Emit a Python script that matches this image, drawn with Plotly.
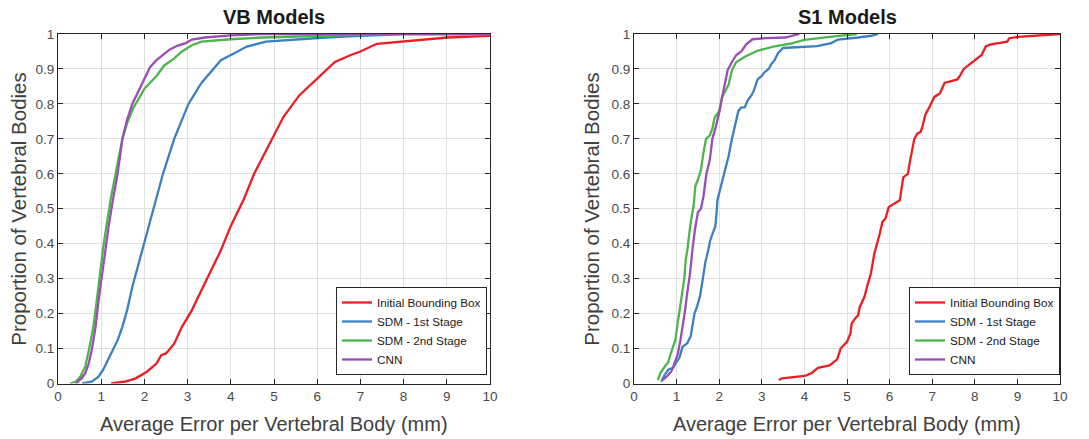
import plotly.graph_objects as go

# ---------------- data ----------------
series_names = ["Initial Bounding Box", "SDM - 1st Stage", "SDM - 2nd Stage", "CNN"]
series_colors = ["#ee1c24", "#3a80c3", "#4cb64a", "#9a4db5"]

x_ticks = list(range(0, 11))
y_ticks = [0, 0.1, 0.2, 0.3, 0.4, 0.5, 0.6, 0.7, 0.8, 0.9, 1]
y_tick_labels = ["0", "0.1", "0.2", "0.3", "0.4", "0.5", "0.6", "0.7", "0.8", "0.9", "1"]

# VB models
vb_init_x = [1.23, 1.53, 1.79, 2.05, 2.28, 2.39, 2.5, 2.69, 2.87, 3.1, 3.32, 3.54, 3.77, 3.99, 4.14, 4.29,
             4.54, 4.99, 5.22, 5.59, 5.96, 6.41, 6.78, 7.0, 7.38, 7.9, 8.43, 9.02, 9.84, 10]
vb_init_y = [0, 0.005, 0.014, 0.033, 0.057, 0.081, 0.086, 0.114, 0.162, 0.21, 0.267, 0.324, 0.381, 0.448, 0.486, 0.524,
             0.6, 0.705, 0.763, 0.825, 0.868, 0.92, 0.94, 0.95, 0.972, 0.978, 0.985, 0.99, 0.994, 0.995]

vb_sdm1_x = [0.56, 0.78, 0.93, 1.04, 1.19, 1.38, 1.49, 1.6, 1.72, 1.87, 1.98, 2.09, 2.2, 2.43, 2.69, 3.02, 3.32,
             3.77, 4.07, 4.37, 4.81, 5.5, 6.2, 7.0, 8.0, 10]
vb_sdm1_y = [0, 0.005, 0.019, 0.038, 0.076, 0.124, 0.162, 0.21, 0.276, 0.343, 0.4, 0.448, 0.495, 0.6, 0.7, 0.8, 0.86,
             0.925, 0.944, 0.964, 0.978, 0.985, 0.99, 0.995, 1.0, 1.0]

vb_sdm2_x = [0.28, 0.41, 0.52, 0.63, 0.72, 0.82, 0.9, 0.97, 1.04, 1.12, 1.22, 1.38, 1.49, 1.6, 1.75, 2.01, 2.28,
             2.46, 2.69, 2.87, 3.1, 3.32, 4.0, 4.74, 6.0, 7.5, 10]
vb_sdm2_y = [0, 0.005, 0.02, 0.048, 0.098, 0.163, 0.24, 0.316, 0.383, 0.45, 0.527, 0.63, 0.7, 0.745, 0.79, 0.845, 0.88,
             0.91, 0.93, 0.95, 0.968, 0.978, 0.985, 0.99, 0.995, 1.0, 1.0]

vb_cnn_x = [0.41, 0.54, 0.63, 0.71, 0.78, 0.87, 0.94, 1.02, 1.1, 1.17, 1.27, 1.38, 1.49, 1.6, 1.72, 1.87, 2.0, 2.13,
            2.28, 2.43, 2.58, 2.77, 2.96, 3.1, 3.4, 4.0, 4.75, 10]
vb_cnn_y = [0, 0.014, 0.029, 0.057, 0.095, 0.162, 0.238, 0.314, 0.381, 0.448, 0.524, 0.6, 0.7, 0.755, 0.8, 0.84, 0.875,
            0.905, 0.925, 0.94, 0.955, 0.967, 0.974, 0.984, 0.99, 0.996, 1.0, 1.0]

# S1 models
s1_init_x = [3.4, 3.48, 4.0, 4.06, 4.17, 4.32, 4.59, 4.7, 4.77, 4.85, 5.0, 5.08, 5.11, 5.19, 5.26, 5.3, 5.41, 5.49,
             5.56, 5.64, 5.71, 5.77, 5.83, 5.9, 5.98, 6.09, 6.24, 6.32, 6.43, 6.47, 6.58, 6.65, 6.73, 6.77, 6.84,
             6.93, 7.05, 7.18, 7.29, 7.59, 7.65, 7.74, 7.89, 8.04, 8.16, 8.26, 8.38, 8.76, 8.81, 9.02, 9.7, 10]
s1_init_y = [0.01, 0.015, 0.022, 0.024, 0.03, 0.045, 0.052, 0.062, 0.069, 0.1, 0.119, 0.143, 0.171, 0.186, 0.195,
             0.219, 0.248, 0.286, 0.314, 0.371, 0.4, 0.429, 0.462, 0.471, 0.505, 0.514, 0.524, 0.59, 0.6, 0.63, 0.7,
             0.715, 0.72, 0.735, 0.77, 0.79, 0.82, 0.83, 0.86, 0.87, 0.88, 0.9, 0.915, 0.928, 0.94, 0.965, 0.97,
             0.978, 0.988, 0.992, 0.997, 1.0]

s1_sdm1_x = [0.64, 0.72, 0.81, 0.92, 0.99, 1.07, 1.14, 1.25, 1.33, 1.37, 1.42, 1.48, 1.55, 1.59, 1.63, 1.68, 1.74,
             1.79, 1.85, 1.91, 1.94, 1.96, 2.0, 2.07, 2.15, 2.22, 2.3, 2.37, 2.45, 2.52, 2.6, 2.67, 2.76, 2.82, 2.9,
             3.0, 3.06, 3.16, 3.23, 3.3, 3.38, 3.5, 3.72, 4.3, 4.63, 4.79, 5.26, 5.57, 5.73]
s1_sdm1_y = [0.005, 0.025, 0.04, 0.045, 0.06, 0.075, 0.105, 0.115, 0.135, 0.17, 0.2, 0.22, 0.25, 0.28, 0.31, 0.35,
             0.38, 0.41, 0.43, 0.45, 0.49, 0.525, 0.545, 0.58, 0.62, 0.65, 0.7, 0.735, 0.78, 0.79, 0.79, 0.81, 0.825,
             0.84, 0.87, 0.88, 0.89, 0.9, 0.915, 0.925, 0.945, 0.96, 0.961, 0.965, 0.974, 0.984, 0.99, 0.995, 1.0]

s1_sdm2_x = [0.56, 0.62, 0.73, 0.8, 0.86, 0.92, 0.97, 1.01, 1.07, 1.12, 1.18, 1.22, 1.25, 1.29, 1.33, 1.4, 1.44,
             1.49, 1.57, 1.63, 1.69, 1.78, 1.84, 1.89, 2.0, 2.07, 2.15, 2.22, 2.3, 2.4, 2.6, 2.9, 3.27, 3.7, 4.0,
             4.3, 4.7, 5.23]
s1_sdm2_y = [0.01, 0.03, 0.05, 0.06, 0.085, 0.105, 0.124, 0.16, 0.21, 0.26, 0.3, 0.36, 0.38, 0.42, 0.46, 0.51, 0.565,
             0.58, 0.61, 0.66, 0.7, 0.71, 0.73, 0.76, 0.78, 0.82, 0.84, 0.855, 0.897, 0.92, 0.935, 0.952, 0.964,
             0.973, 0.983, 0.988, 0.993, 1.0]

s1_cnn_x = [0.67, 0.77, 0.88, 0.96, 1.03, 1.09, 1.14, 1.2, 1.25, 1.31, 1.37, 1.43, 1.5, 1.57, 1.63, 1.7, 1.78, 1.84,
            1.92, 2.0, 2.07, 2.15, 2.2, 2.3, 2.4, 2.52, 2.63, 2.78, 3.1, 3.55, 3.77, 3.88]
s1_cnn_y = [0.01, 0.02, 0.035, 0.06, 0.085, 0.124, 0.16, 0.21, 0.26, 0.31, 0.38, 0.44, 0.49, 0.5, 0.535, 0.6, 0.64,
            0.7, 0.735, 0.775, 0.82, 0.87, 0.897, 0.92, 0.94, 0.95, 0.97, 0.985, 0.988, 0.99, 0.997, 1.0]

vb_series = [(vb_init_x, vb_init_y), (vb_sdm1_x, vb_sdm1_y), (vb_sdm2_x, vb_sdm2_y), (vb_cnn_x, vb_cnn_y)]
s1_series = [(s1_init_x, s1_init_y), (s1_sdm1_x, s1_sdm1_y), (s1_sdm2_x, s1_sdm2_y), (s1_cnn_x, s1_cnn_y)]

# ---------------- figure ----------------
W, H = 1089, 439
FONT = "Liberation Sans, Arial, Helvetica, sans-serif"
AXC = "#262626"

fig = go.Figure()

for (xs, ys), name, col in zip(vb_series, series_names, series_colors):
    fig.add_trace(go.Scatter(x=xs, y=ys, mode="lines", name=name, line=dict(color=col, width=2.3),
                             xaxis="x", yaxis="y", legend="legend"))
for (xs, ys), name, col in zip(s1_series, series_names, series_colors):
    fig.add_trace(go.Scatter(x=xs, y=ys, mode="lines", name=name, line=dict(color=col, width=2.3),
                             xaxis="x2", yaxis="y2", legend="legend2"))


def px_x(p):
    return p / W


def px_y(p):
    return 1 - p / H


left_dom = [px_x(58), px_x(490)]
right_dom = [px_x(634), px_x(1060)]
y_dom = [px_y(383.5), px_y(34)]

axis_common = dict(
    showline=True, linecolor=AXC, linewidth=1, mirror="ticks",
    ticks="inside", ticklen=5, tickcolor=AXC, tickwidth=1,
    showgrid=True, gridcolor="#e0e0e0", gridwidth=1,
    zeroline=False, automargin=False,
    tickfont=dict(family=FONT, size=13.5, color="#4a4a4a"),
)

legend_common = dict(xanchor="right", yanchor="bottom", bgcolor="white", bordercolor=AXC, borderwidth=1,
                     font=dict(family=FONT, size=11.7, color="#1a1a1a"), tracegroupgap=0, itemwidth=30)

fig.update_layout(
    width=W, height=H,
    margin=dict(l=0, r=0, t=0, b=0),
    paper_bgcolor="white", plot_bgcolor="white",
    showlegend=True,
    xaxis=dict(domain=left_dom, range=[0, 10], tickvals=x_ticks, anchor="y", **axis_common),
    yaxis=dict(domain=y_dom, range=[0, 1], tickvals=y_ticks, ticktext=y_tick_labels, anchor="x", **axis_common),
    xaxis2=dict(domain=right_dom, range=[0, 10], tickvals=x_ticks, anchor="y2", **axis_common),
    yaxis2=dict(domain=y_dom, range=[0, 1], tickvals=y_ticks, ticktext=y_tick_labels, anchor="x2", **axis_common),
    legend=dict(x=px_x(487), y=px_y(375), **legend_common),
    legend2=dict(x=px_x(1060), y=px_y(375), **legend_common),
)

annots = [
    dict(text="<b>VB Models</b>", x=(left_dom[0] + left_dom[1]) / 2, y=px_y(17), size=20),
    dict(text="<b>S1 Models</b>", x=(right_dom[0] + right_dom[1]) / 2, y=px_y(17), size=20),
    dict(text="Average Error per Vertebral Body (mm)", x=(left_dom[0] + left_dom[1]) / 2, y=px_y(424), size=20),
    dict(text="Average Error per Vertebral Body (mm)", x=(right_dom[0] + right_dom[1]) / 2, y=px_y(424), size=20),
]
for a in annots:
    fig.add_annotation(text=a["text"], x=a["x"], y=a["y"], xref="paper", yref="paper",
                       xanchor="center", yanchor="middle", showarrow=False,
                       font=dict(family=FONT, size=a["size"], color="#1a1a1a" if "<b>" in a["text"] else "#404040"))

for xc in [19, 592]:
    fig.add_annotation(text="Proportion of Vertebral Bodies", x=px_x(xc), y=(y_dom[0] + y_dom[1]) / 2,
                       xref="paper", yref="paper", xanchor="center", yanchor="middle", textangle=-90,
                       showarrow=False, font=dict(family=FONT, size=20.5, color="#404040"))

# remove the default page margin so the figure fills the window exactly
fig.write_html("out.html", config={"displayModeBar": False},
               post_script="document.body.style.margin='0';document.body.style.overflow='hidden';")
